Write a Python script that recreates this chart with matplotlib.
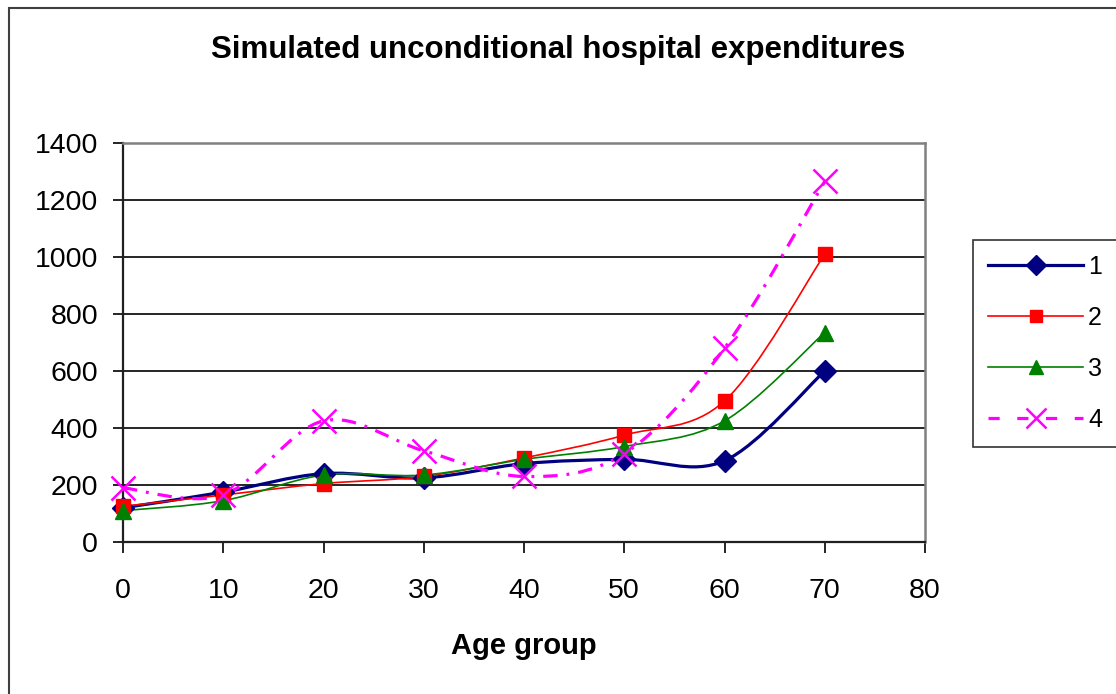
import numpy as np
import matplotlib
matplotlib.use("Agg")
import matplotlib.pyplot as plt
from matplotlib.path import Path
from matplotlib.patches import PathPatch, Rectangle
from matplotlib.lines import Line2D

plt.rcParams['font.family'] = ['Liberation Sans', 'DejaVu Sans']

# data
age_groups = [0, 10, 20, 30, 40, 50, 60, 70]
series_1 = [120, 175, 240, 225, 275, 290, 285, 600]
series_2 = [125, 165, 205, 230, 295, 375, 495, 1010]
series_3 = [110, 145, 235, 235, 290, 335, 425, 735]
series_4 = [190, 165, 425, 320, 230, 310, 680, 1265]
labels = ['1', '2', '3', '4']
title = 'Simulated unconditional hospital expenditures'
xlabel = 'Age group'


def smooth_path(x, y):
    # Excel-like smoothed line: cubic bezier through the points
    p = np.column_stack([x, y]).astype(float)
    ext = np.vstack([p[0], p, p[-1]])
    verts = [p[0]]
    codes = [Path.MOVETO]
    for i in range(len(p) - 1):
        c1 = p[i] + (ext[i + 2] - ext[i]) / 6.0
        c2 = p[i + 1] - (ext[i + 3] - ext[i + 1]) / 6.0
        verts += [c1, c2, p[i + 1]]
        codes += [Path.CURVE4] * 3
    return Path(verts, codes)


fig = plt.figure(figsize=(11.16, 6.94), dpi=100)
ax = fig.add_axes([123 / 1116, 1 - 542 / 694, (925 - 123) / 1116, (542 - 143) / 694])

# outer chart border (runs off the right and bottom)
fig.patches.append(Rectangle((9 / 1116, -0.05), 1.2, 1 - 8 / 694 + 0.05,
                             transform=fig.transFigure, fill=False,
                             edgecolor='#404040', linewidth=1.5))

styles = [
    dict(color='#000080', lw=2.3, marker='D', ms=11.5, ls='-'),
    dict(color='#ff0000', lw=1.2, marker='s', ms=9.5, ls='-'),
    dict(color='#008000', lw=1.2, marker='^', ms=11.5, ls='-'),
    dict(color='#ff00ff', lw=2.3, marker='x', ms=17, ls=(0, (4.5, 2.8, 0.9, 2.8))),
]
data = [series_1, series_2, series_3, series_4]

handles = []
for vals, st, lab in zip(data, styles, labels):
    ax.add_patch(PathPatch(smooth_path(age_groups, vals), fill=False,
                           edgecolor=st['color'], linewidth=st['lw'],
                           linestyle=st['ls'], zorder=3, clip_on=False))
    mew = 1.8 if st['marker'] == 'x' else 1
    ax.plot(age_groups, vals, linestyle='none', marker=st['marker'],
            ms=st['ms'], color=st['color'], mec=st['color'], mew=mew,
            zorder=4, clip_on=False)
    handles.append(Line2D([], [], color=st['color'], lw=st['lw'],
                          linestyle=(0, (3.5, 5.5)) if st['marker'] == 'x' else '-',
                          marker=st['marker'], ms=st['ms'] * 0.85,
                          mew=mew, label=lab))

ax.set_xlim(0, 80)
ax.set_ylim(0, 1400)
ax.set_xticks(range(0, 81, 10))
ax.set_yticks(range(0, 1401, 200))
ax.yaxis.grid(True, color='black', linewidth=1.2, zorder=1)
ax.set_axisbelow(True)

for s in ['top', 'right']:
    ax.spines[s].set_color('#808080')
    ax.spines[s].set_linewidth(1.8)
for s in ['left', 'bottom']:
    ax.spines[s].set_color('#202020')
    ax.spines[s].set_linewidth(1.6)

ax.tick_params(axis='y', direction='out', length=7, width=1.2, pad=11,
               labelsize=20.5, colors='black')
ax.tick_params(axis='x', direction='out', length=8, width=1.2, pad=18,
               labelsize=20.5, colors='black')

fig.text(0.5, 1 - 50 / 694, title, ha='center', va='center',
         fontsize=22.5, fontweight='bold')
ax.set_xlabel(xlabel, fontsize=21, fontweight='bold', labelpad=20)

leg = fig.legend(handles=handles, loc='upper left',
                 bbox_to_anchor=(973 / 1116, 1 - 240 / 694),
                 borderaxespad=0, frameon=True, fancybox=False,
                 fontsize=18, handlelength=3.8, handletextpad=0.2,
                 labelspacing=1.08, borderpad=0.6)
leg.get_frame().set_edgecolor('black')
leg.get_frame().set_linewidth(1.2)

fig.savefig('out.png', dpi=100, facecolor='white')
